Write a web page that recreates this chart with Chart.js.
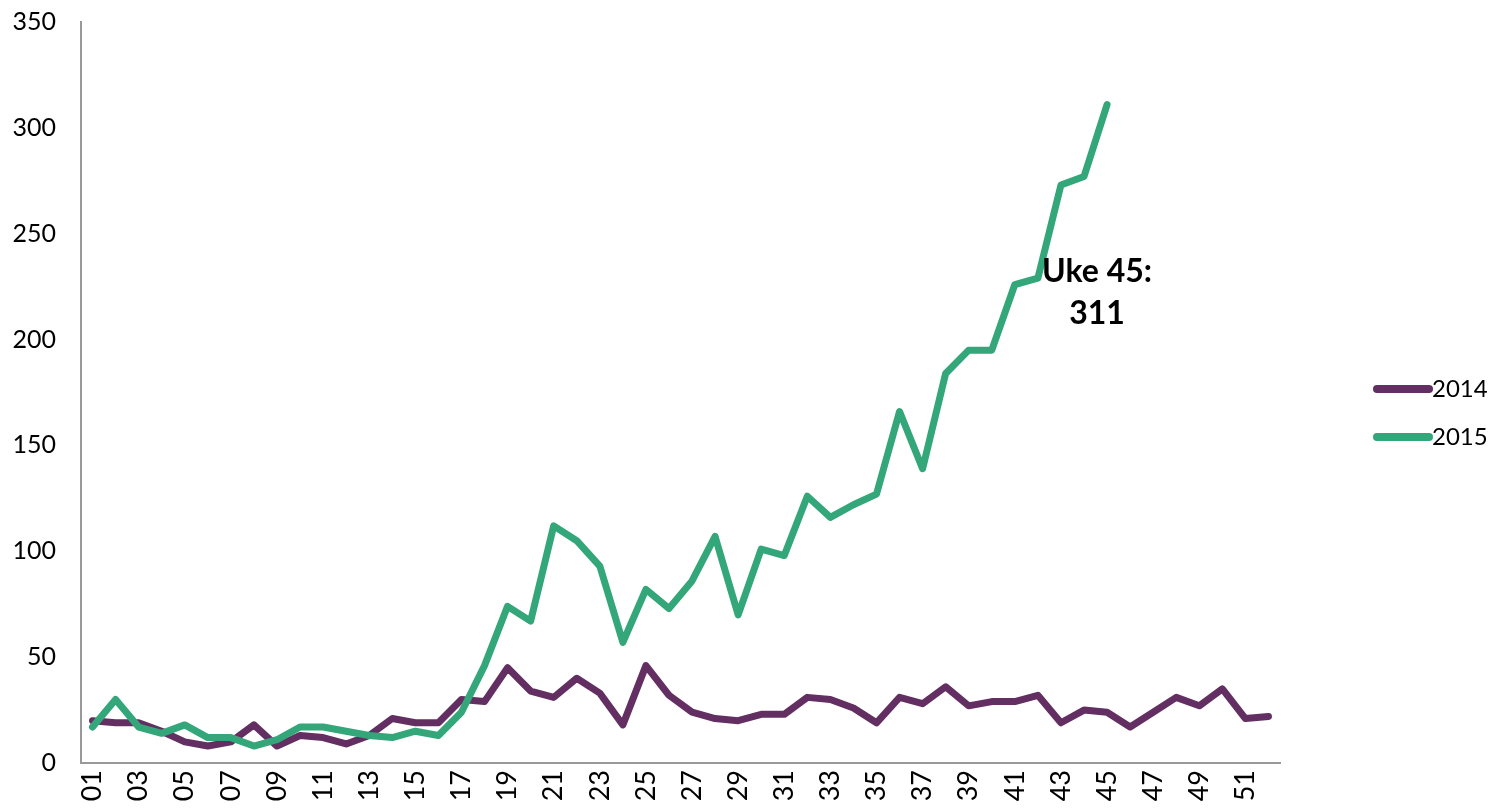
<!DOCTYPE html>
<html>
<head>
<meta charset="utf-8">
<script src="https://cdn.jsdelivr.net/npm/chart.js@4/dist/chart.umd.min.js"></script>
<style>
  html, body { margin: 0; padding: 0; background: #fff; }
  #wrap { width: 1499px; height: 809px; }
</style>
</head>
<body>
<div id="wrap"><canvas id="chart"></canvas></div>
<script>
var weeks = [];
for (var w = 1; w <= 52; w++) weeks.push(w < 10 ? '0' + w : '' + w);

var values2014 = [20, 19, 19, 15, 10, 8, 10, 18, 8, 13, 12, 9, 13, 21, 19, 19, 30, 29, 45, 34,
                  31, 40, 33, 18, 46, 32, 24, 21, 20, 23, 23, 31, 30, 26, 19, 31, 28, 36, 27, 29,
                  29, 32, 19, 25, 24, 17, 24, 31, 27, 35, 21, 22];
var values2015 = [17, 30, 17, 14, 18, 12, 12, 8, 11, 17, 17, 15, 13, 12, 15, 13, 24, 46, 74, 67,
                  112, 105, 93, 57, 82, 73, 86, 107, 70, 101, 98, 126, 116, 122, 127, 166, 139, 184, 195, 195,
                  226, 229, 273, 277, 311];
var yTicks = [0, 50, 100, 150, 200, 250, 300, 350];
var seriesNames = ['2014', '2015'];
var seriesColors = ['#632e62', '#34a77a'];
var noteLines = ['Uke 45:', '311'];

var FONT = 'Lato, "Open Sans", sans-serif';

// custom legend + annotation
const extras = {
    id: 'extras',
    afterDraw(chart) {
        const ctx = chart.ctx;
        ctx.save();
        // legend on the right
        const lx = 1377, ly = 389, gap = 48;
        chart.data.datasets.forEach((ds, i) => {
            const y = ly + i * gap;
            ctx.strokeStyle = ds.borderColor;
            ctx.lineWidth = 8;
            ctx.lineCap = 'round';
            ctx.beginPath();
            ctx.moveTo(lx, y);
            ctx.lineTo(lx + 52, y);
            ctx.stroke();
            ctx.fillStyle = '#000';
            ctx.font = '24px ' + FONT;
            ctx.textAlign = 'left';
            ctx.textBaseline = 'middle';
            ctx.fillText(ds.label, lx + 55, y);
        });
        // note next to week 45
        const xs = chart.scales.x, ys = chart.scales.y;
        const nx = xs.getPixelForValue(44) - 10;
        ctx.font = 'bold 32px ' + FONT;
        ctx.textAlign = 'center';
        ctx.fillStyle = '#000';
        ctx.fillText(noteLines[0], nx, ys.getPixelForValue(232));
        ctx.fillText(noteLines[1], nx, ys.getPixelForValue(212));
        ctx.restore();
    }
};

const ctx = document.getElementById('chart').getContext('2d');
const chart = new Chart(ctx, {
    type: 'line',
    data: {
        labels: weeks,
        datasets: [{
            label: seriesNames[0],
            data: values2014,
            borderColor: seriesColors[0],
            backgroundColor: seriesColors[0],
            borderWidth: 7,
            pointRadius: 0,
            tension: 0,
            borderJoinStyle: 'round',
            borderCapStyle: 'round',
            order: 1
        }, {
            label: seriesNames[1],
            data: values2015,
            borderColor: seriesColors[1],
            backgroundColor: seriesColors[1],
            borderWidth: 7,
            pointRadius: 0,
            tension: 0,
            borderJoinStyle: 'round',
            borderCapStyle: 'round',
            order: 0
        }]
    },
    options: {
        responsive: true,
        maintainAspectRatio: false,
        animation: false,
        layout: { padding: { top: 22, right: 219, left: 0, bottom: 0 } },
        plugins: {
            legend: { display: false },
            tooltip: { enabled: false }
        },
        scales: {
            x: {
                offset: true,
                grid: { display: false, drawTicks: false },
                border: { display: true, color: '#999', width: 2 },
                afterFit: function(scale) { scale.height = 46; },
                ticks: {
                    autoSkip: false,
                    maxRotation: 90,
                    minRotation: 90,
                    padding: 7,
                    color: '#000',
                    font: { family: FONT, size: 27 },
                    callback: function(v, i) { return i % 2 === 0 ? weeks[i] : ''; }
                }
            },
            y: {
                min: 0,
                max: 350,
                afterBuildTicks: function(scale) {
                    scale.ticks = yTicks.map(v => ({ value: v }));
                },
                afterFit: function(scale) {
                    scale.width = 81;
                    scale.paddingTop = 0;
                    scale.paddingBottom = 0;
                },
                grid: { display: false, drawTicks: false },
                border: { display: true, color: '#999', width: 2 },
                ticks: {
                    padding: 25,
                    color: '#000',
                    font: { family: FONT, size: 25 }
                }
            }
        }
    },
    plugins: [extras]
});
</script>
</body>
</html>
